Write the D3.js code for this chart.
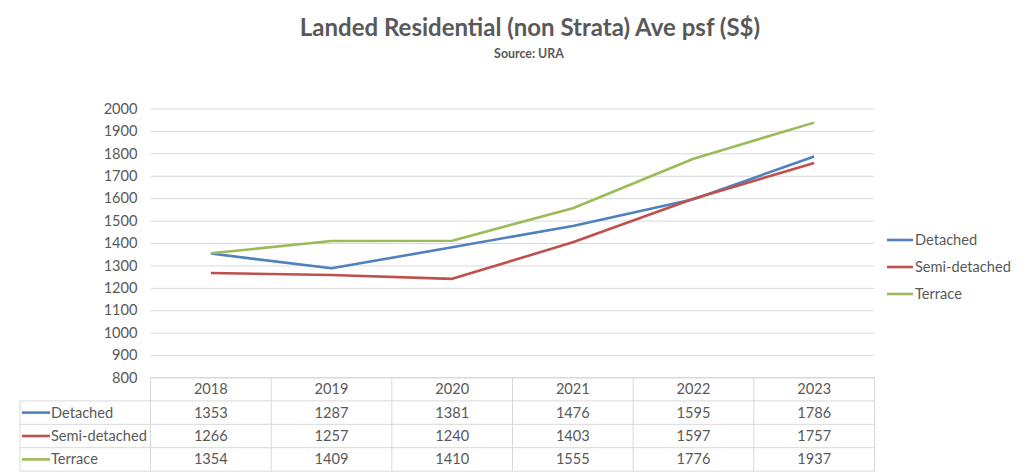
<!DOCTYPE html>
<html><head><meta charset="utf-8">
<script src="https://cdn.jsdelivr.net/npm/d3@7"></script>
<style>body{margin:0;background:#fff}svg{display:block;font-family:Lato,"Open Sans",sans-serif}</style>
</head><body><svg id="c" width="1024" height="474"></svg>
<script>
const years = ["2018","2019","2020","2021","2022","2023"];
const seriesNames = ["Detached","Semi-detached","Terrace"];
const detached = [1353,1287,1381,1476,1595,1786];
const semiDetached = [1266,1257,1240,1403,1597,1757];
const terrace = [1354,1409,1410,1555,1776,1937];
const seriesColors = ["#4F81BD","#C0504D","#9BBB59"];
const yTicks = [800,900,1000,1100,1200,1300,1400,1500,1600,1700,1800,1900,2000];
const title = "Landed Residential (non Strata) Ave psf (S$)";
const subtitle = "Source: URA";

const seriesValues = [detached, semiDetached, terrace];
const svg = d3.select("#c");
const L = 150.5, R = 874.5, T = 108.5, B = 377.5;
const txt = "#595959", grid = "#D9D9D9";
const fs = 14.6;
const x = d3.scaleBand().domain(years).range([L, R]);
const y = d3.scaleLinear().domain([800, 2000]).range([B, T]);

svg.append("text").attr("x", 530).attr("y", 35.5).attr("text-anchor", "middle")
  .attr("font-size", 24).attr("font-weight", "bold").attr("fill", txt).text(title);
svg.append("text").attr("x", 529).attr("y", 57.5).attr("text-anchor", "middle")
  .attr("font-size", 12.4).attr("font-weight", "bold").attr("fill", txt).text(subtitle);

// gridlines
const yAxis = d3.axisLeft(y).tickValues(yTicks).tickSize(-(R - L)).tickPadding(13).tickFormat(d3.format("d"));
const ga = svg.append("g").attr("transform", `translate(${L},0)`).call(yAxis);
ga.select(".domain").remove();
ga.selectAll(".tick line").attr("stroke", grid).attr("stroke-width", 1);
ga.selectAll(".tick text").attr("fill", txt).attr("font-size", fs).attr("font-family", "Lato,sans-serif");

// lines
const line = d3.line().x((d, i) => x(years[i]) + x.bandwidth() / 2).y(d => y(d));
seriesValues.forEach((vals, k) => {
  svg.append("path").datum(vals).attr("d", line).attr("fill", "none")
    .attr("stroke", seriesColors[k]).attr("stroke-width", 2.6).attr("stroke-linejoin", "round");
});

// data table
const tableLeft = 20, rowH = 23.4;
const tg = svg.append("g");
tg.append("line").attr("x1", L).attr("x2", R).attr("y1", B).attr("y2", B).attr("stroke", grid);
for (let r = 1; r <= 4; r++) {
  const yy = B + r * rowH;
  tg.append("line").attr("x1", tableLeft).attr("x2", R).attr("y1", yy).attr("y2", yy).attr("stroke", grid);
}
tg.append("line").attr("x1", tableLeft).attr("x2", tableLeft).attr("y1", B + rowH).attr("y2", B + 4 * rowH).attr("stroke", grid);
years.forEach(yr => {
  tg.append("line").attr("x1", x(yr)).attr("x2", x(yr)).attr("y1", B).attr("y2", B + 4 * rowH).attr("stroke", grid);
});
tg.append("line").attr("x1", R).attr("x2", R).attr("y1", B).attr("y2", B + 4 * rowH).attr("stroke", grid);
years.forEach(yr => {
  tg.append("text").attr("x", x(yr) + x.bandwidth() / 2).attr("y", B + rowH / 2 + 5)
    .attr("text-anchor", "middle").attr("font-size", fs).attr("fill", txt).text(yr);
});
seriesNames.forEach((nm, k) => {
  const cy = B + (k + 1) * rowH + rowH / 2;
  tg.append("line").attr("x1", 22).attr("x2", 50).attr("y1", cy).attr("y2", cy)
    .attr("stroke", seriesColors[k]).attr("stroke-width", 2.6);
  tg.append("text").attr("x", 51).attr("y", cy + 5).attr("font-size", fs).attr("fill", txt).text(nm);
  seriesValues[k].forEach((v, i) => {
    tg.append("text").attr("x", x(years[i]) + x.bandwidth() / 2).attr("y", cy + 5)
      .attr("text-anchor", "middle").attr("font-size", fs).attr("fill", txt).text(v);
  });
});

// legend
const legY = [240, 267, 294];
seriesNames.forEach((nm, k) => {
  svg.append("line").attr("x1", 887).attr("x2", 913).attr("y1", legY[k]).attr("y2", legY[k])
    .attr("stroke", seriesColors[k]).attr("stroke-width", 2.6);
  svg.append("text").attr("x", 915).attr("y", legY[k] + 5).attr("font-size", fs).attr("fill", txt).text(nm);
});
</script></body></html>
